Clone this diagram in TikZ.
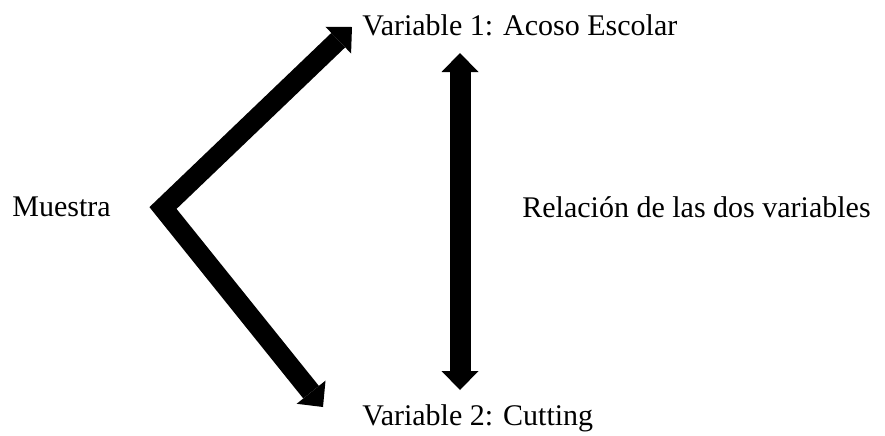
\documentclass[tikz,border=0pt]{standalone}
\usepackage{fontspec}
\setmainfont{Liberation Serif}
\usetikzlibrary{arrows.meta}

\begin{document}
\begin{tikzpicture}[x=0.5pt, y=-0.5pt,
						etiqueta/.style={inner sep=0pt, anchor=base west, font=\fontsize{15}{18}\selectfont},
						punta/.tip={Triangle[width=18.5pt, length=9.5pt, line width=0pt]},
						flecha/.style={draw, line width=10pt, line join=miter},]
		\useasboundingbox (0,0) rectangle (885,435);

		\node (muestra) [etiqueta] at (12,216) {Muestra};
		\node (var1) [etiqueta] at (362,35) {Variable 1: Acoso Escolar};
		\node (var2) [etiqueta] at (362,425) {Variable 2: Cutting};
		\node (relacion) [etiqueta] at (522,217) {Relación de las dos variables};

		\coordinate (vertice) at (163,208);
		\coordinate (punta1) at (352,27);
		\coordinate (punta2) at (323,407);
		\coordinate (relsup) at (460,53);
		\coordinate (relinf) at (460,390);

		\path 	[flecha, punta-punta] (punta1) -- (vertice) -- (punta2);
		\path 	[flecha, line width=10.5pt, punta-punta] (relsup) -- (relinf);
	\end{tikzpicture}
\end{document}
